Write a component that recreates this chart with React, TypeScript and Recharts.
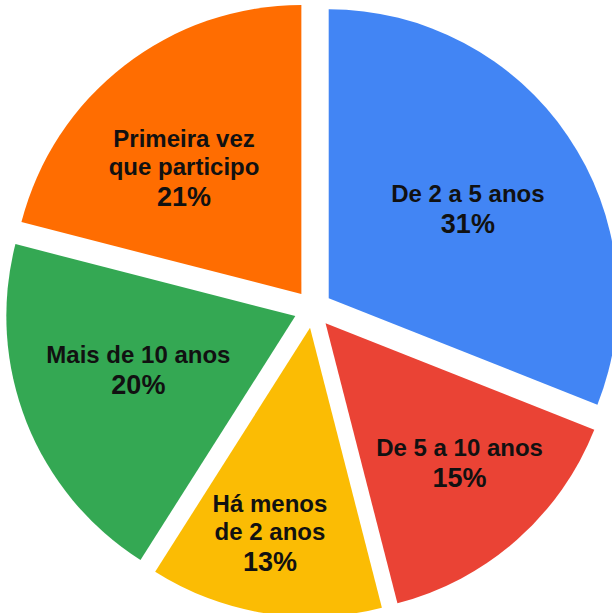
import { PieChart, Pie, Cell } from 'recharts';

const categories = [
  'De 2 a 5 anos',
  'De 5 a 10 anos',
  'Há menos de 2 anos',
  'Mais de 10 anos',
  'Primeira vez que participo',
];
const shares = [31, 15, 13, 20, 21];
const labelLines = [
  ['De 2 a 5 anos'],
  ['De 5 a 10 anos'],
  ['Há menos', 'de 2 anos'],
  ['Mais de 10 anos'],
  ['Primeira vez', 'que participo'],
];

const COLORS = ['#4285F4', '#EA4335', '#FBBC04', '#34A853', '#FF6D01'];

// layout
const CX = 313;
const CY = 309;
const RADIUS = 289;
const EXPLODE = 19;
// label distance from the slice tip and a small angle nudge (degrees, clockwise)
const LABEL_RADIUS = [165, 194, 210, 166, 172];
const LABEL_NUDGE = [1.7, -2.3, 2, 2.6, -5.2];
const FONT = '"Liberation Sans", Arial, sans-serif';

const data = categories.map((name, i) => ({ name, value: shares[i] }));
const total = shares.reduce((a, b) => a + b, 0);

// mid angle of each slice (recharts degrees: 90 = top, going clockwise)
const midAngles = shares.map((v, i) => {
  const before = shares.slice(0, i).reduce((a, b) => a + b, 0);
  return 90 - (360 * (before + v / 2)) / total;
});

const RAD = Math.PI / 180;

function SliceLabel({ index, slice, cx, cy }: { index: number; slice: number; cx: number; cy: number }) {
  if (index !== slice) return null;
  const a = (midAngles[slice] - LABEL_NUDGE[slice]) * RAD;
  const x = cx + LABEL_RADIUS[slice] * Math.cos(a);
  const y = cy - LABEL_RADIUS[slice] * Math.sin(a);
  const lines = labelLines[slice];
  const height = 16 + (lines.length - 1) * 28 + 31;
  const top = y - height / 2;
  return (
    <g>
      {lines.map((line, k) => (
        <text
          key={k}
          x={x}
          y={top + 16 + k * 28}
          textAnchor="middle"
          fontFamily={FONT}
          fontWeight="bold"
          fontSize={24}
          fill="#111"
        >
          {line}
        </text>
      ))}
      <text
        x={x}
        y={top + 16 + (lines.length - 1) * 28 + 31}
        textAnchor="middle"
        fontFamily={FONT}
        fontWeight="bold"
        fontSize={27}
        fill="#111"
      >
        {Math.round((shares[slice] / total) * 100)}%
      </text>
    </g>
  );
}

export default function App() {
  return (
    <div style={{ position: 'absolute', left: 0, top: 0 }}>
      <PieChart width={612} height={613} margin={{ top: 0, right: 0, bottom: 0, left: 0 }}>
        {shares.map((_, slice) => {
          const a = midAngles[slice] * RAD;
          const cx = CX + EXPLODE * Math.cos(a);
          const cy = CY - EXPLODE * Math.sin(a);
          return (
            <Pie
              key={slice}
              data={data}
              dataKey="value"
              nameKey="name"
              cx={cx}
              cy={cy}
              innerRadius={0}
              outerRadius={RADIUS}
              startAngle={90}
              endAngle={-270}
              stroke="none"
              labelLine={false}
              label={(props: any) => (
                <SliceLabel index={props.index} slice={slice} cx={cx} cy={cy} />
              )}
              isAnimationActive={false}
            >
              {data.map((entry, i) => (
                <Cell
                  key={`cell-${i}`}
                  fill={i === slice ? COLORS[i] : 'transparent'}
                  stroke="none"
                />
              ))}
            </Pie>
          );
        })}
      </PieChart>
    </div>
  );
}
